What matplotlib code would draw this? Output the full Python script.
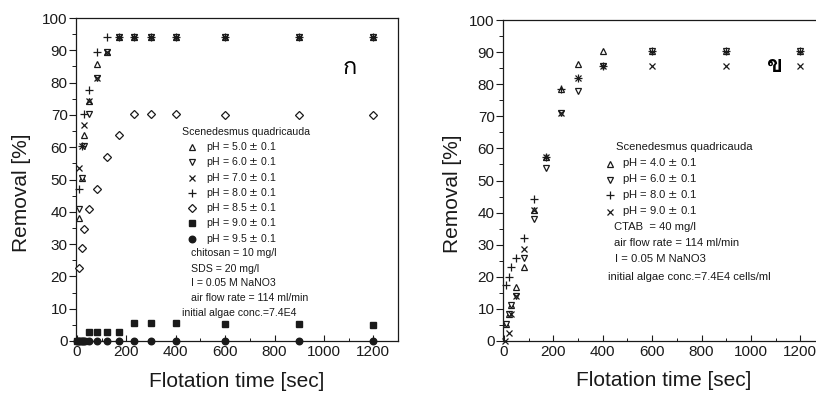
import matplotlib
matplotlib.use("Agg")
import matplotlib.pyplot as plt
from matplotlib import font_manager
from matplotlib.ft2font import FT2Font
from matplotlib.ticker import MultipleLocator

plt.rcParams["font.family"] = ["Liberation Sans", "DejaVu Sans"]


def thai_family():
    # find any installed font that has Thai glyphs
    for f in font_manager.fontManager.ttflist:
        try:
            if FT2Font(f.fname).get_char_index(ord("ก")):
                return f.name
        except Exception:
            pass
    return "DejaVu Sans"


# ---- panel ก : chitosan / SDS ----
time_a = [10, 20, 30, 50, 80, 120, 170, 230, 300, 400, 600, 900, 1200]
ph50_a = [38.0, 50.4, 63.8, 74.4, 85.7, 89.6, 94, 94, 94, 94, 94, 94, 94]
ph60_a = [40.8, 50.4, 60.4, 70.3, 81.4, 89.6, 94, 94, 94, 94, 94, 94, 94]
ph70_a = [53.7, 60.4, 66.9, 74.4, 81.4, 89.6, 94, 94, 94, 94, 94, 94, 94]
ph80_a = [47.1, 60.4, 70.3, 77.6, 89.6, 94, 94, 94, 94, 94, 94, 94, 94]
ph85_a = [22.7, 28.7, 34.7, 40.8, 47.1, 56.9, 63.8, 70.3, 70.3, 70.3, 70, 70, 70]
time_a0 = [0, 10, 20, 30, 50, 80, 120, 170, 230, 300, 400, 600, 900, 1200]
ph90_a = [0, 0, 0, 0, 2.7, 2.7, 2.7, 2.7, 5.5, 5.5, 5.5, 5.3, 5.3, 5.1]
ph95_a = [0, 0, 0, 0, 0, 0, 0, 0, 0, 0, 0, 0, 0, 0]

notes_a = ["chitosan = 10 mg/l", "SDS = 20 mg/l", "I = 0.05 M NaNO3",
           "air flow rate = 114 ml/min"]
last_note_a = "initial algae conc.=7.4E4"

# ---- panel ข : CTAB ----
time_b = [10, 20, 30, 50, 80, 120, 170, 230, 300, 400, 600, 900, 1200]
ph40_b = [5.4, 8.4, 11.2, 16.9, 23.1, 40.8, 57.4, 78.4, 86.2, 90.3, 90.3, 90.3, 90.3]
ph60_b = [5.4, 8.4, 11.2, 14.0, 25.8, 38.0, 54.0, 70.9, 78.0, 85.8, 90.3, 90.3, 90.3]
ph80_b = [17.4, 20.0, 22.9, 25.9, 32.2, 44.1, 57.4, 78.4, 81.8, 85.8, 90.3, 90.3, 90.3]
time_bx = [5, 20, 30, 50, 80, 120, 170, 230, 300, 400, 600, 900, 1200]
ph90_b = [0, 2.6, 8.4, 14.0, 28.7, 40.8, 57.4, 70.9, 81.8, 85.8, 85.8, 85.8, 85.8]

notes_b = ["CTAB  = 40 mg/l", "air flow rate = 114 ml/min", "I = 0.05 M NaNO3"]
last_note_b = "initial algae conc.=7.4E4 cells/ml"

title_txt = "Scenedesmus quadricauda"

INK = "#1a1a1a"
open_kw = dict(mfc="white", mec=INK, mew=0.9, ls="none", clip_on=False)
fill_kw = dict(mfc=INK, mec=INK, ls="none", clip_on=False)
line_kw = dict(color=INK, mew=0.9, ls="none", clip_on=False)

styles_a = [
    ("^", 4.6, open_kw, "pH = 5.0 $\\pm$ 0.1"),
    ("v", 4.6, open_kw, "pH = 6.0 $\\pm$ 0.1"),
    ("x", 4.8, line_kw, "pH = 7.0 $\\pm$ 0.1"),
    ("+", 5.8, line_kw, "pH = 8.0 $\\pm$ 0.1"),
    ("D", 3.8, open_kw, "pH = 8.5 $\\pm$ 0.1"),
    ("s", 4.2, fill_kw, "pH = 9.0 $\\pm$ 0.1"),
    ("o", 4.7, fill_kw, "pH = 9.5 $\\pm$ 0.1"),
]
styles_b = [
    ("^", 4.8, open_kw, "pH = 4.0 $\\pm$ 0.1"),
    ("v", 4.8, open_kw, "pH = 6.0 $\\pm$ 0.1"),
    ("+", 5.8, line_kw, "pH = 8.0 $\\pm$ 0.1"),
    ("x", 4.8, line_kw, "pH = 9.0 $\\pm$ 0.1"),
]

fig = plt.figure(figsize=(8.16, 3.94), dpi=100)
ax1 = fig.add_axes([76 / 816, 53 / 394, 322 / 816, 323 / 394])
ax2 = fig.add_axes([503 / 816, 53 / 394, 322 / 816, 321 / 394])


def style_axes(ax, lab_x):
    ax.set_xlim(-4, 1300)
    ax.set_ylim(0, 100)
    ax.xaxis.set_major_locator(MultipleLocator(200))
    ax.xaxis.set_minor_locator(MultipleLocator(100))
    ax.yaxis.set_major_locator(MultipleLocator(10))
    ax.yaxis.set_minor_locator(MultipleLocator(5))
    ax.tick_params(axis="x", which="both", direction="in", colors=INK,
                   labelsize=11, pad=3)
    ax.tick_params(axis="x", which="major", length=4, width=0.8)
    ax.tick_params(axis="x", which="minor", length=2.5, width=0.7)
    ax.tick_params(axis="y", which="both", direction="out", colors=INK,
                   labelsize=11, pad=1)
    ax.tick_params(axis="y", which="major", length=5, width=0.8)
    ax.tick_params(axis="y", which="minor", length=3, width=0.7)
    ax.tick_params(top=False, right=False)
    for sp in ax.spines.values():
        sp.set_color(INK)
        sp.set_linewidth(0.9)
    ax.set_xlabel("Flotation time [sec]", fontsize=15, color=INK)
    ax.set_ylabel("Removal [%]", fontsize=15, color=INK)
    ax.xaxis.set_label_coords(0.5, -0.095)
    ax.yaxis.set_label_coords(lab_x, 0.46)


def key_block(ax, styles, x_mark, x_text, rows, fs):
    for (mk, ms, kw, lab), y in zip(styles, rows):
        ax.plot([x_mark], [y], marker=mk, ms=ms, transform=ax.transAxes, **kw)
        ax.text(x_text, y, lab, transform=ax.transAxes, fontsize=fs,
                va="center", ha="left", color=INK)


def frac_y(py, top, h):
    return (top + h - py) / h


# panel ก
series_a = [(time_a, ph50_a), (time_a, ph60_a), (time_a, ph70_a),
            (time_a, ph80_a), (time_a, ph85_a), (time_a0, ph90_a),
            (time_a0, ph95_a)]
for (tt, vv), (mk, ms, kw, lab) in zip(series_a, styles_a):
    ax1.plot(tt, vv, marker=mk, ms=ms, zorder=3, **kw)
style_axes(ax1, -0.14)

FS_A = 7.6
fy = lambda py: frac_y(py, 18, 323)
fx = lambda px: (px - 76) / 322
ax1.text(fx(246), fy(132), title_txt, transform=ax1.transAxes, fontsize=FS_A,
         ha="center", va="center", color=INK)
rows_a = [fy(p) for p in [147, 162.5, 178, 193, 208, 223, 238.5]]
key_block(ax1, styles_a, fx(192), fx(206), rows_a, FS_A)
for note, p in zip(notes_a, [253.5, 268.5, 283, 298]):
    ax1.text(fx(191), fy(p), note, transform=ax1.transAxes, fontsize=FS_A,
             ha="left", va="center", color=INK)
ax1.text(fx(182.5), fy(312.5), last_note_a, transform=ax1.transAxes,
         fontsize=FS_A, ha="left", va="center", color=INK)

# panel ข
series_b = [(time_b, ph40_b), (time_b, ph60_b), (time_b, ph80_b),
            (time_bx, ph90_b)]
for (tt, vv), (mk, ms, kw, lab) in zip(series_b, styles_b):
    ax2.plot(tt, vv, marker=mk, ms=ms, zorder=3, **kw)
style_axes(ax2, -0.127)

FS_B = 8.1
gy = lambda py: frac_y(py, 20, 321)
gx = lambda px: (px - 503) / 322
ax2.text(gx(616.5), gy(147), title_txt, transform=ax2.transAxes, fontsize=FS_B,
         ha="left", va="center", color=INK)
rows_b = [gy(p) for p in [163.5, 179.5, 195, 211.5]]
key_block(ax2, styles_b, gx(609.5), gx(622.5), rows_b, FS_B)
for note, p, px in zip(notes_b, [227.5, 243.5, 259], [613.5, 613.5, 615]):
    ax2.text(gx(px), gy(p), note, transform=ax2.transAxes, fontsize=FS_B,
             ha="left", va="center", color=INK)
ax2.text(gx(608.5), gy(276.5), last_note_b, transform=ax2.transAxes,
         fontsize=FS_B, ha="left", va="center", color=INK)

thai = thai_family()
fig.text(350 / 816, 1 - 68 / 394, "ก", fontsize=17, ha="center", va="center",
         family=[thai, "DejaVu Sans"], color="black")
fig.text(775 / 816, 1 - 65 / 394, "ข", fontsize=17, ha="center", va="center",
         family=[thai, "DejaVu Sans"], color="black", fontweight="bold")

fig.savefig("out.png", dpi=100)
